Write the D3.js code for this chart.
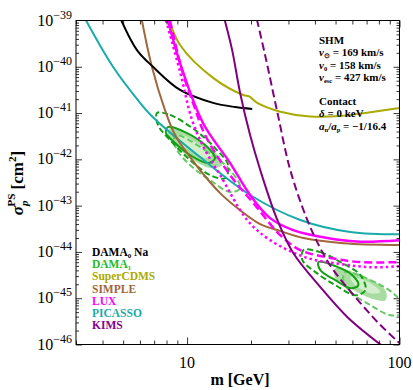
<!DOCTYPE html>
<html>
<head>
<meta charset="utf-8">
<script src="https://cdn.jsdelivr.net/npm/d3@7"></script>
<style>
  body { margin: 0; background: #fff; }
</style>
</head>
<body>
<svg id="chart" width="413" height="390" font-family="'Liberation Serif', 'Times New Roman', serif"></svg>
<script>
// values are [mass in GeV, log10 of sigma in cm^2]
const picasso   = [[3.3,-38.95],[4.48,-40.0],[5.87,-40.72],[6.91,-41.09],[11.5,-41.95],[19.8,-42.77],[34.1,-43.31],[58.7,-43.57],[100,-43.62]];
const dama0     = [[4.85,-38.95],[5.81,-39.64],[6.91,-40.0],[9.27,-40.5],[13.26,-40.78],[16.84,-40.87],[20.26,-40.91]];
const superCdms = [[8.2,-38.95],[9.27,-39.53],[13.26,-40.24],[18.4,-40.61],[19.6,-40.64],[21.4,-40.78],[27.5,-40.97],[38,-41.075],[52.7,-41.064],[73,-40.98],[100,-40.89]];
const simple    = [[6.1,-38.95],[6.83,-40.0],[7.87,-40.935],[8.78,-41.475],[9.78,-41.8],[11.5,-42.23],[14.31,-42.73],[17.78,-43.1],[22.1,-43.4],[27.5,-43.55],[35.3,-43.7],[54.4,-43.81],[100,-43.85]];
const luxSolid  = [[8.1,-38.97],[9.27,-39.92],[11.9,-41.22],[15.95,-42.08],[19.8,-42.77],[24.6,-43.27],[31.6,-43.53],[45.7,-43.7],[65.5,-43.78],[100,-43.75]];
const luxDashed = [[8.31,-39.0],[9.5,-40.1],[10.8,-40.85],[12.16,-41.475],[15.95,-42.34],[20.9,-42.99],[27.5,-43.64],[34.1,-43.96],[47.3,-44.13],[65.5,-44.22],[100,-44.22]];
const luxDotted = [[7.96,-39.0],[9.27,-40.11],[10.56,-41.15],[12.16,-41.8],[14.31,-42.34],[19.2,-43.31],[24.6,-43.745],[36.8,-44.13],[52.7,-44.26],[73,-44.33],[100,-44.31]];
const kimsSolid = [[15.0,-38.97],[16.3,-39.64],[17.78,-40.57],[19.8,-41.475],[22.1,-42.23],[26.6,-43.31],[31.6,-44.025],[42.4,-44.76],[56.9,-45.41],[84,-46.05]];
const kimsDashed= [[21.3,-38.97],[23.3,-39.75],[26.6,-40.98],[30.6,-42.23],[36.8,-43.31],[42.4,-43.92],[48.8,-44.39],[65.5,-45.105],[81.3,-45.58],[100,-45.97]];

// DAMA_I contours (closed outlines)
const damaFillOuter = [
  [[8.31,-41.324],[10.91,-41.54],[13.55,-41.843],[14.62,-42.124],[12.84,-42.188],[10.33,-41.972],[8.78,-41.691],[8.13,-41.475]],
  [[49.9,-44.35],[65.5,-44.502],[85.9,-44.826],[85.9,-45.042],[73,-44.999],[58.7,-44.783],[49.9,-44.566]]
];
const damaFillInner = [
  [[9.27,-41.475],[11.5,-41.691],[13.1,-41.907],[12.16,-41.972],[10.33,-41.8],[9.27,-41.648]],
  [[58.7,-44.545],[73,-44.675],[81.3,-44.869],[73,-44.891],[62,-44.718]]
];
const damaSolid = [
  [[8.13,-41.302],[9.78,-41.41],[12.16,-41.691],[13.55,-41.972],[12.56,-42.08],[10.33,-41.907],[8.78,-41.648],[7.96,-41.432]],
  [[41.5,-44.22],[49.9,-44.307],[60.0,-44.502],[64.1,-44.718],[58.7,-44.783],[49.9,-44.61],[42.4,-44.393]]
];
const damaDashed = [
  [[7.22,-41.0],[8.31,-41.04],[10.91,-41.367],[13.55,-41.756],[15.61,-42.124],[15.1,-42.405],[12.84,-42.34],[10.33,-42.016],[8.31,-41.583],[7.30,-41.259]],
  [[35.3,-43.961],[42.4,-44.004],[52.7,-44.22],[65.5,-44.502],[69.1,-44.826],[62.0,-44.934],[49.9,-44.718],[40.2,-44.437],[34.9,-44.177]]
];
const damaLightDashed = [
  [[8.78,-41.475],[12.16,-41.8],[15.95,-42.232],[17.78,-42.62],[15.95,-42.707],[12.84,-42.448],[10.33,-42.124],[8.87,-41.756]],
  [[55.6,-44.437],[73,-44.61],[95.7,-44.934],[107.9,-45.301],[90.7,-45.366],[73,-45.15],[58.7,-44.869],[54.4,-44.61]]
];

const legendNames  = ["DAMA\u2080 Na", "DAMA\u2081", "SuperCDMS", "SIMPLE", "LUX", "PICASSO", "KIMS"];
const legendColors = ["#000000", "#22bb22", "#aaaa00", "#a0673a", "#ff00ff", "#1aabab", "#880088"];
const yExponents = [-46, -45, -44, -43, -42, -41, -40, -39];
const xLabels = [10, 100];

const svg = d3.select("#chart");
const L = 76, R = 399.5, T = 20.5, B = 344.5;
const x = d3.scaleLog().domain([3, 100]).range([L, R]);
const y = d3.scaleLog().domain([1e-46, 1e-39]).range([B, T]);
const py = v => y(Math.pow(10, v));

svg.append("clipPath").attr("id", "plot-clip")
  .append("rect").attr("x", L).attr("y", T).attr("width", R - L).attr("height", B - T);

const plot = svg.append("g").attr("clip-path", "url(#plot-clip)");

const area = d3.line().x(d => x(d[0])).y(d => py(d[1])).curve(d3.curveCatmullRomClosed.alpha(0.5));
const curve = d3.line().x(d => x(d[0])).y(d => py(d[1])).curve(d3.curveCatmullRom.alpha(0.5));

// DAMA shaded regions and outlines
damaFillOuter.forEach(c => plot.append("path").attr("d", area(c)).attr("fill", "#a8dca0"));
damaFillInner.forEach(c => plot.append("path").attr("d", area(c)).attr("fill", "#d2eecb"));
damaLightDashed.forEach(c => plot.append("path").attr("d", area(c))
  .attr("fill", "none").attr("stroke", "#66c866").attr("stroke-width", 2).attr("stroke-dasharray", "6,3"));
damaSolid.forEach(c => plot.append("path").attr("d", area(c))
  .attr("fill", "none").attr("stroke", "#11a011").attr("stroke-width", 2));
damaDashed.forEach(c => plot.append("path").attr("d", area(c))
  .attr("fill", "none").attr("stroke", "#11a011").attr("stroke-width", 2).attr("stroke-dasharray", "6,3"));

// exclusion curves
const curves = [
  { data: picasso,    color: "#1aabab", width: 2 },
  { data: simple,     color: "#a0673a", width: 2 },
  { data: superCdms,  color: "#aaaa00", width: 2 },
  { data: dama0,      color: "#000000", width: 2 },
  { data: luxDotted,  color: "#ff00ff", width: 2.5, dash: "2.5,3" },
  { data: luxDashed,  color: "#ff00ff", width: 2.5, dash: "8,4" },
  { data: luxSolid,   color: "#ff00ff", width: 2.5 },
  { data: kimsSolid,  color: "#800080", width: 2 },
  { data: kimsDashed, color: "#800080", width: 2, dash: "8,4" }
];
curves.forEach(c => {
  const p = plot.append("path").attr("d", curve(c.data))
    .attr("fill", "none").attr("stroke", c.color).attr("stroke-width", c.width);
  if (c.dash) p.attr("stroke-dasharray", c.dash);
});

// ticks on all four sides, pointing inward
const isDecade = v => Math.abs(Math.log10(v) - Math.round(Math.log10(v))) < 1e-6;
const yMajor = y.ticks().filter(isDecade), yMinor = y.ticks().filter(v => !isDecade(v));
const xMajor = x.ticks().filter(isDecade), xMinor = x.ticks().filter(v => !isDecade(v));

function drawAxis(axisFn, scale, vals, size, tr) {
  const g = svg.append("g").attr("transform", tr)
    .call(axisFn(scale).tickValues(vals).tickSize(-size).tickFormat(""));
  g.select(".domain").remove();
  g.selectAll(".tick line").attr("stroke", "#000").attr("stroke-width", 0.8);
}
drawAxis(d3.axisLeft, y, yMajor, 6, `translate(${L},0)`);
drawAxis(d3.axisLeft, y, yMinor, 3, `translate(${L},0)`);
drawAxis(d3.axisRight, y, yMajor, 6, `translate(${R},0)`);
drawAxis(d3.axisRight, y, yMinor, 3, `translate(${R},0)`);
drawAxis(d3.axisBottom, x, xMajor, 7, `translate(0,${B})`);
drawAxis(d3.axisBottom, x, xMinor, 4, `translate(0,${B})`);
drawAxis(d3.axisTop, x, xMajor, 7, `translate(0,${T})`);
drawAxis(d3.axisTop, x, xMinor, 4, `translate(0,${T})`);

svg.append("rect").attr("x", L).attr("y", T).attr("width", R - L).attr("height", B - T)
  .attr("fill", "none").attr("stroke", "#000").attr("stroke-width", 1);

// y tick labels
yExponents.forEach(e => {
  const t = svg.append("text").attr("x", 72).attr("y", y(Math.pow(10, e)) + 5)
    .attr("text-anchor", "end").attr("font-size", 16);
  t.append("tspan").text("10");
  t.append("tspan").attr("dy", -7).attr("font-size", 12).text("\u2212" + Math.abs(e));
});
// x tick labels
xLabels.forEach(v => {
  svg.append("text").attr("x", x(v)).attr("y", 368).attr("text-anchor", "middle")
    .attr("font-size", 16).text(v);
});

// axis titles
svg.append("text").attr("x", 240).attr("y", 385).attr("text-anchor", "middle")
  .attr("font-size", 16).attr("font-weight", "bold").text("m [GeV]");
const yt = svg.append("text").attr("transform", "translate(23,183) rotate(-90)")
  .attr("text-anchor", "middle").attr("font-size", 17).attr("font-weight", "bold");
yt.append("tspan").attr("font-style", "italic").text("\u03c3");
yt.append("tspan").attr("font-size", 11).attr("font-style", "italic").attr("dy", 5).text("p");
yt.append("tspan").attr("font-size", 11).attr("dy", -13).attr("dx", -6).text("PS");
yt.append("tspan").attr("dy", 8).text(" [cm");
yt.append("tspan").attr("font-size", 11).attr("dy", -7).text("2");
yt.append("tspan").attr("dy", 7).text("]");

// legend
legendNames.forEach((n, i) => {
  svg.append("text").attr("x", 92).attr("y", 256 + i * 12.2)
    .attr("font-size", 11.5).attr("font-weight", "bold").attr("fill", legendColors[i]).text(n);
});

// parameter box
const info = svg.append("g").attr("font-size", 11).attr("font-weight", "bold");
info.append("text").attr("x", 319).attr("y", 44).text("SHM");
function sub(yy, main, s, rest) {
  const t = info.append("text").attr("x", 319).attr("y", yy);
  t.append("tspan").attr("font-style", "italic").text(main);
  t.append("tspan").attr("font-size", 6.5).attr("dy", 2).text(s);
  t.append("tspan").attr("dy", -2).text(rest);
}
sub(56, "v", "\u2299", " = 169 km/s");
sub(68.5, "v", "0", " = 158 km/s");
sub(81, "v", "esc", " = 427 km/s");
info.append("text").attr("x", 319).attr("y", 104.5).text("Contact");
const dl = info.append("text").attr("x", 319).attr("y", 117);
dl.append("tspan").attr("font-style", "italic").text("\u03b4");
dl.append("tspan").text(" = 0 keV");
const al = info.append("text").attr("x", 319).attr("y", 129.5);
al.append("tspan").attr("font-style", "italic").text("a");
al.append("tspan").attr("font-size", 6.5).attr("dy", 2).text("n");
al.append("tspan").attr("dy", -2).text("/");
al.append("tspan").attr("font-style", "italic").text("a");
al.append("tspan").attr("font-size", 6.5).attr("dy", 2).text("p");
al.append("tspan").attr("dy", -2).text(" = \u22121/16.4");
</script>
</body>
</html>
